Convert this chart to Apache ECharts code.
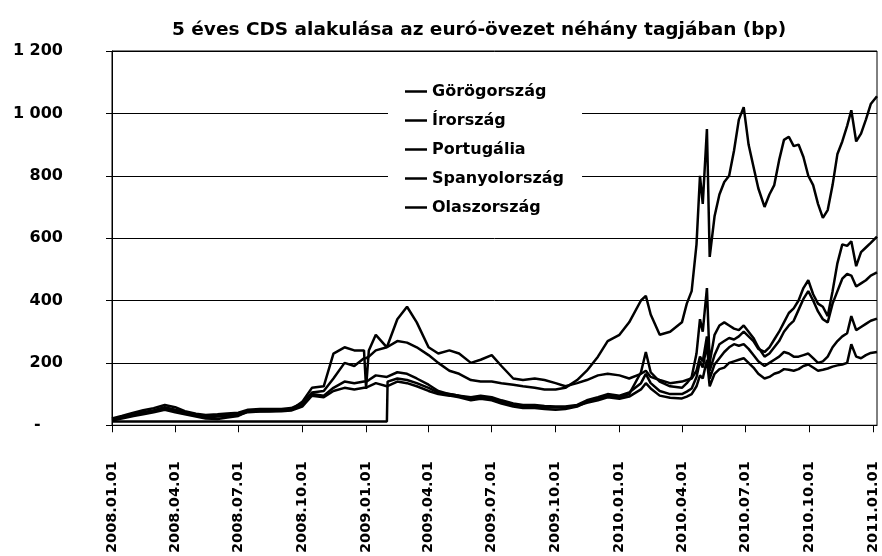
<!DOCTYPE html>
<html>
<head>
<meta charset="utf-8">
<script src="https://cdn.jsdelivr.net/npm/echarts@6/dist/echarts.min.js"></script>
<style>
  html, body { margin: 0; padding: 0; background: #fff; }
  #cds { width: 882px; height: 556px; }
</style>
</head>
<body>
<div id="cds"></div>
<script>
// dátumok (közös minden sorozatnál)
var dates = [
  '2008-01-01','2008-01-15','2008-02-01','2008-02-15','2008-03-01','2008-03-17','2008-04-01','2008-04-15',
  '2008-05-01','2008-05-15','2008-06-01','2008-06-15','2008-07-01','2008-07-15','2008-08-01','2008-08-15',
  '2008-09-01','2008-09-15','2008-10-01','2008-10-15','2008-11-01','2008-11-15','2008-12-01','2008-12-15','2008-12-29',
  '2009-01-01','2009-01-05','2009-01-15','2009-01-31','2009-02-01','2009-02-15','2009-03-01','2009-03-15',
  '2009-04-01','2009-04-15','2009-05-01','2009-05-15','2009-06-01','2009-06-15','2009-07-01','2009-07-15',
  '2009-08-01','2009-08-15','2009-09-01','2009-09-15','2009-10-01','2009-10-15','2009-11-01','2009-11-15',
  '2009-12-01','2009-12-15',
  '2010-01-01','2010-01-15','2010-02-01','2010-02-08','2010-02-15','2010-02-28','2010-03-15','2010-04-01',
  '2010-04-08','2010-04-15','2010-04-22','2010-04-27','2010-05-01','2010-05-07','2010-05-11','2010-05-18',
  '2010-05-25','2010-06-01','2010-06-08','2010-06-15','2010-06-22','2010-06-29','2010-07-06','2010-07-13',
  '2010-07-20','2010-07-29','2010-08-05','2010-08-12','2010-08-19','2010-08-26','2010-09-02','2010-09-09',
  '2010-09-16','2010-09-23','2010-09-30','2010-10-07','2010-10-14','2010-10-21','2010-10-28','2010-11-04',
  '2010-11-11','2010-11-18','2010-11-25','2010-12-01','2010-12-08','2010-12-15','2010-12-22','2010-12-29',
  '2011-01-07'
];

var gorog = [
  22,30,40,48,55,65,58,45,37,33,35,38,40,50,52,52,52,55,70,105,110,150,200,190,215,
  215,220,240,250,255,270,265,250,225,200,175,165,145,140,140,135,130,125,120,115,115,120,145,175,220,270,
  290,330,400,415,355,290,300,330,390,430,580,800,710,950,540,670,740,780,800,880,980,1020,900,830,760,700,
  740,770,850,915,925,895,900,860,800,770,710,665,690,770,870,910,960,1010,910,935,980,1030,1055
];
var ir = [
  15,22,30,35,42,50,42,35,28,22,20,25,30,45,47,47,48,50,75,120,125,230,250,240,240,
  120,240,290,250,255,340,380,330,250,230,240,230,200,210,225,190,150,145,150,145,135,125,135,145,160,165,
  160,150,165,175,155,145,135,140,145,150,175,220,205,285,175,225,260,270,280,275,285,300,285,270,245,235,
  250,275,300,330,360,375,400,440,465,420,390,380,350,430,520,580,575,590,510,555,570,585,605
];
var portugal = [
  20,25,33,40,45,52,45,38,32,25,28,30,33,42,44,44,45,47,60,95,90,110,120,115,120,
  120,125,135,125,130,140,135,125,110,100,95,90,80,85,80,70,60,55,55,52,50,52,60,75,85,95,
  90,100,170,235,170,140,125,120,135,155,230,340,300,440,200,290,320,330,320,310,305,320,300,280,250,220,
  230,250,270,300,320,335,370,405,430,400,365,340,330,390,430,470,485,480,445,455,465,480,490
];
var spanyol = [
  12,12,12,12,12,12,12,12,12,12,12,12,12,12,12,12,12,12,12,12,12,12,12,12,12,
  12,12,12,12,140,150,145,135,120,105,100,95,90,95,90,80,70,65,65,62,60,60,65,80,90,100,
  95,105,135,165,135,110,100,100,108,118,155,205,185,260,150,195,215,235,250,260,255,260,245,225,205,190,
  200,210,220,235,230,220,220,225,230,215,200,205,220,250,270,285,295,350,305,315,325,335,342
];
var olasz = [
  20,25,35,42,48,58,50,42,35,30,30,33,36,45,45,46,47,50,65,100,95,120,140,135,140,
  140,145,160,155,160,170,165,150,130,110,100,95,85,90,85,75,65,62,60,58,57,58,62,72,80,90,
  85,92,115,135,118,95,88,86,92,100,125,160,150,210,125,165,180,185,200,205,210,215,200,185,165,150,
  155,165,170,180,178,175,180,190,195,185,175,178,182,188,192,195,200,260,220,215,225,232,235
];

var names = ['Görögország', 'Írország', 'Portugália', 'Spanyolország', 'Olaszország'];
var tickDates = [
  '2008-01-01','2008-04-01','2008-07-01','2008-10-01','2009-01-01','2009-04-01','2009-07-01',
  '2009-10-01','2010-01-01','2010-04-01','2010-07-01','2010-10-01','2011-01-01'
];

// napok száma 2008.01.01 óta
function day(s) {
  var p = s.split('-');
  return Math.round((Date.UTC(+p[0], +p[1] - 1, +p[2]) - Date.UTC(2008, 0, 1)) / 86400000);
}
function pad(n) { return (n < 10 ? '0' : '') + n; }

var font = 'DejaVu Sans';
var chart = echarts.init(document.getElementById('cds'));

var series = [gorog, ir, portugal, spanyol, olasz].map(function (vals, k) {
  return {
    name: names[k],
    type: 'line',
    symbol: 'none',
    lineStyle: { color: '#000', width: 2.5 },
    itemStyle: { color: '#000' },
    data: dates.map(function (d, i) { return [day(d), vals[i]]; })
  };
});

chart.setOption({
  animation: false,
  backgroundColor: '#fff',
  title: {
    text: '5 éves CDS alakulása az euró-övezet néhány tagjában (bp)',
    left: 167,
    top: 16,
    textStyle: { fontFamily: font, fontSize: 18.5, fontWeight: 'bold', color: '#000' }
  },
  legend: {
    data: names,
    orient: 'vertical',
    left: 388,
    top: 75,
    padding: [8, 18, 8, 17],
    itemGap: 12,
    icon: 'rect',
    itemWidth: 22,
    itemHeight: 2.5,
    backgroundColor: '#fff',
    textStyle: { fontFamily: font, fontSize: 16, fontWeight: 'bold', color: '#000', lineHeight: 17 }
  },
  grid: {
    left: 112, right: 5, top: 51, bottom: 119,
    show: true, borderColor: '#000', borderWidth: 1
  },
  xAxis: {
    type: 'value',
    min: 0,
    max: day('2011-01-07'),
    axisLine: { lineStyle: { color: '#000', width: 1 } },
    axisTick: {
      show: true, inside: false, length: 7,
      lineStyle: { color: '#000' },
      customValues: tickDates.map(day)
    },
    splitLine: { show: false },
    axisLabel: {
      customValues: tickDates.map(day),
      rotate: 90,
      margin: 36,
      fontFamily: font, fontSize: 14.5, fontWeight: 'bold', color: '#000',
      formatter: function (v) {
        var d = new Date(Date.UTC(2008, 0, 1) + v * 86400000);
        return d.getUTCFullYear() + '.' + pad(d.getUTCMonth() + 1) + '.' + pad(d.getUTCDate());
      }
    }
  },
  yAxis: {
    type: 'value',
    min: 0, max: 1200, interval: 200,
    axisLine: { show: true, lineStyle: { color: '#000' } },
    axisTick: { show: true, length: 6, lineStyle: { color: '#000' } },
    splitLine: { lineStyle: { color: '#000', width: 1 } },
    axisLabel: {
      margin: 49,
      fontFamily: font, fontSize: 16, fontWeight: 'bold', color: '#000',
      formatter: function (v) {
        if (v === 0) return '-    ';
        if (v >= 1000) return Math.floor(v / 1000) + ' ' + String(v % 1000).padStart(3, '0');
        return String(v);
      }
    }
  },
  series: series
});
</script>
</body>
</html>
